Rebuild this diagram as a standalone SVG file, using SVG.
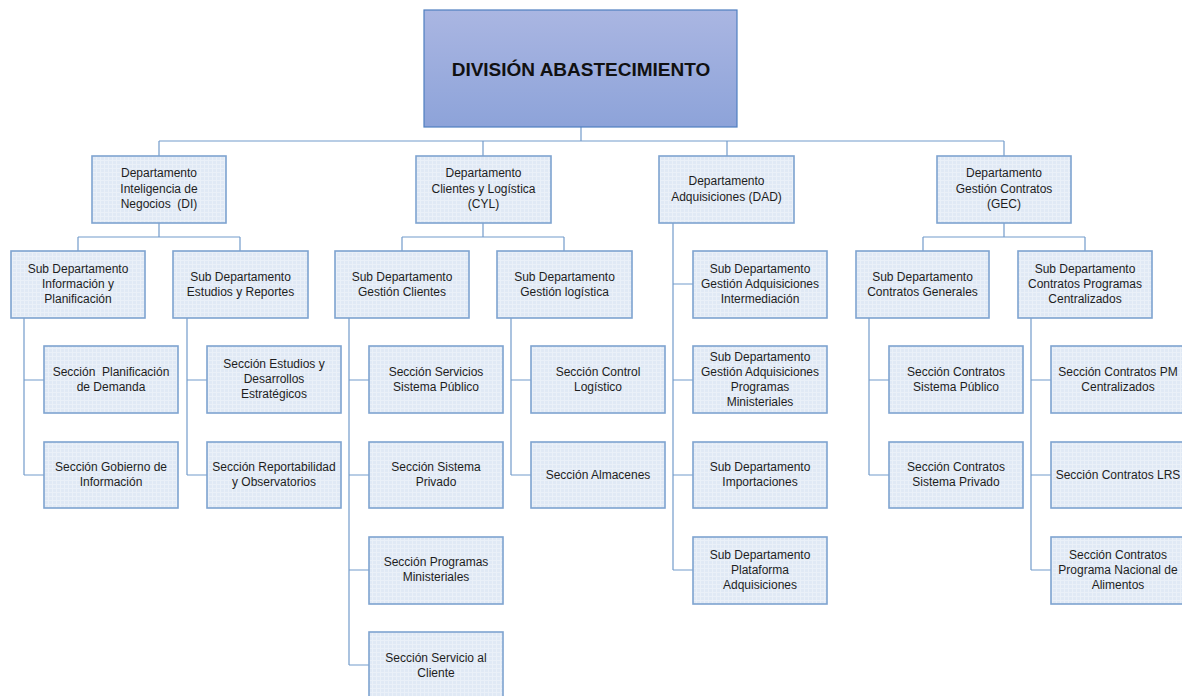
<svg xmlns="http://www.w3.org/2000/svg" width="1182" height="696" viewBox="0 0 1182 696">
<defs>
<linearGradient id="gTop" x1="0" y1="0" x2="0" y2="1">
<stop offset="0" stop-color="#AAB6E2"/>
<stop offset="1" stop-color="#8DA3D9"/>
</linearGradient>
<pattern id="grid" width="4" height="4" patternUnits="userSpaceOnUse">
<rect width="4" height="4" fill="#E0E9F5"/>
<path d="M0 0.5H4M0.5 0V4" stroke="#EAF0F8" stroke-width="1"/>
</pattern>
<style>
.n{fill:url(#grid);stroke:#7EA3D0;stroke-width:1.6}
.t{font-family:"Liberation Sans",Arial,sans-serif;font-size:12px;fill:#1E1E1E;text-anchor:middle}
.c{fill:none;stroke:#739CCB;stroke-width:1.2}
</style>
</defs>
<rect width="1182" height="696" fill="#FFFFFF"/>

<g id="connectors" class="c">
<path d="M581 127V141M159 141H1004M159 141V156M483 141V156M727 141V156M1004 141V156"/>
<path d="M159 223V237M78 237H240M78 237V251M240 237V251"/>
<path d="M483 223V237M402 237H564M402 237V251M564 237V251"/>
<path d="M1004 223V237M923 237H1085M923 237V251M1085 237V251"/>
<path d="M24 318V475M24 380H44M24 475H44"/>
<path d="M187 318V475M187 380H207M187 475H207"/>
<path d="M349 318V665M349 380H369M349 475H369M349 570H369M349 665H369"/>
<path d="M511 318V475M511 380H531M511 475H531"/>
<path d="M673 223V570M673 284H693M673 380H693M673 475H693M673 570H693"/>
<path d="M869 318V475M869 380H889M869 475H889"/>
<path d="M1031 318V570M1031 380H1051M1031 475H1051M1031 570H1051"/>
</g>

<g id="division">
<rect x="424" y="10" width="313" height="117" fill="url(#gTop)" stroke="#4F7FC0" stroke-width="1.2"/>
<text x="581" y="76" font-family="Liberation Sans,Arial,sans-serif" font-size="19" font-weight="bold" fill="#111" text-anchor="middle">DIVISIÓN ABASTECIMIENTO</text>
</g>

<g id="dept-di"><rect class="n" x="92" y="156" width="134" height="67"/>
<text class="t" xml:space="preserve"><tspan x="159" y="177">Departamento</tspan><tspan x="159" y="193">Inteligencia de</tspan><tspan x="159" y="208">Negocios  (DI)</tspan></text></g>
<g id="dept-cyl"><rect class="n" x="416" y="156" width="135" height="67"/>
<text class="t"><tspan x="483.5" y="177">Departamento</tspan><tspan x="483.5" y="193">Clientes y Logística</tspan><tspan x="483.5" y="208">(CYL)</tspan></text></g>
<g id="dept-dad"><rect class="n" x="659" y="156" width="135" height="67"/>
<text class="t"><tspan x="726.5" y="185">Departamento</tspan><tspan x="726.5" y="201">Adquisiciones (DAD)</tspan></text></g>
<g id="dept-gec"><rect class="n" x="937" y="156" width="134" height="67"/>
<text class="t"><tspan x="1004" y="177">Departamento</tspan><tspan x="1004" y="193">Gestión Contratos</tspan><tspan x="1004" y="208">(GEC)</tspan></text></g>

<g id="sub-info"><rect class="n" x="11" y="251" width="134" height="67"/>
<text class="t"><tspan x="78" y="273">Sub Departamento</tspan><tspan x="78" y="288">Información y</tspan><tspan x="78" y="303">Planificación</tspan></text></g>
<g id="sub-estudios"><rect class="n" x="173" y="251" width="135" height="67"/>
<text class="t"><tspan x="240.5" y="281">Sub Departamento</tspan><tspan x="240.5" y="296">Estudios y Reportes</tspan></text></g>
<g id="sub-clientes"><rect class="n" x="335" y="251" width="134" height="67"/>
<text class="t"><tspan x="402" y="281">Sub Departamento</tspan><tspan x="402" y="296">Gestión Clientes</tspan></text></g>
<g id="sub-logistica"><rect class="n" x="497" y="251" width="135" height="67"/>
<text class="t"><tspan x="564.5" y="281">Sub Departamento</tspan><tspan x="564.5" y="296">Gestión logística</tspan></text></g>
<g id="sub-intermediacion"><rect class="n" x="693" y="251" width="134" height="67"/>
<text class="t"><tspan x="760" y="273">Sub Departamento</tspan><tspan x="760" y="288">Gestión Adquisiciones</tspan><tspan x="760" y="303">Intermediación</tspan></text></g>
<g id="sub-programas"><rect class="n" x="693" y="346" width="134" height="67"/>
<text class="t"><tspan x="760" y="361">Sub Departamento</tspan><tspan x="760" y="376">Gestión Adquisiciones</tspan><tspan x="760" y="391">Programas</tspan><tspan x="760" y="406">Ministeriales</tspan></text></g>
<g id="sub-importaciones"><rect class="n" x="693" y="442" width="134" height="66"/>
<text class="t"><tspan x="760" y="471">Sub Departamento</tspan><tspan x="760" y="486">Importaciones</tspan></text></g>
<g id="sub-plataforma"><rect class="n" x="693" y="537" width="134" height="67"/>
<text class="t"><tspan x="760" y="559">Sub Departamento</tspan><tspan x="760" y="574">Plataforma</tspan><tspan x="760" y="589">Adquisiciones</tspan></text></g>
<g id="sub-generales"><rect class="n" x="856" y="251" width="133" height="67"/>
<text class="t"><tspan x="922.5" y="281">Sub Departamento</tspan><tspan x="922.5" y="296">Contratos Generales</tspan></text></g>
<g id="sub-centralizados"><rect class="n" x="1018" y="251" width="134" height="67"/>
<text class="t"><tspan x="1085" y="273">Sub Departamento</tspan><tspan x="1085" y="288">Contratos Programas</tspan><tspan x="1085" y="303">Centralizados</tspan></text></g>

<g id="sec-planificacion"><rect class="n" x="44" y="346" width="134" height="67"/>
<text class="t" xml:space="preserve"><tspan x="111" y="376">Sección  Planificación</tspan><tspan x="111" y="391">de Demanda</tspan></text></g>
<g id="sec-gobierno"><rect class="n" x="44" y="442" width="134" height="66"/>
<text class="t"><tspan x="111" y="471">Sección Gobierno de</tspan><tspan x="111" y="486">Información</tspan></text></g>
<g id="sec-estudios"><rect class="n" x="207" y="346" width="134" height="67"/>
<text class="t"><tspan x="274" y="368">Sección Estudios y</tspan><tspan x="274" y="383">Desarrollos</tspan><tspan x="274" y="398">Estratégicos</tspan></text></g>
<g id="sec-reportabilidad"><rect class="n" x="207" y="442" width="134" height="66"/>
<text class="t"><tspan x="274" y="471">Sección Reportabilidad</tspan><tspan x="274" y="486">y Observatorios</tspan></text></g>
<g id="sec-servicios"><rect class="n" x="369" y="346" width="134" height="67"/>
<text class="t"><tspan x="436" y="376">Sección Servicios</tspan><tspan x="436" y="391">Sistema Público</tspan></text></g>
<g id="sec-privado"><rect class="n" x="369" y="442" width="134" height="66"/>
<text class="t"><tspan x="436" y="471">Sección Sistema</tspan><tspan x="436" y="486">Privado</tspan></text></g>
<g id="sec-ministeriales"><rect class="n" x="369" y="537" width="134" height="67"/>
<text class="t"><tspan x="436" y="566">Sección Programas</tspan><tspan x="436" y="581">Ministeriales</tspan></text></g>
<g id="sec-cliente"><rect class="n" x="369" y="632" width="134" height="67"/>
<text class="t"><tspan x="436" y="662">Sección Servicio al</tspan><tspan x="436" y="677">Cliente</tspan></text></g>
<g id="sec-control"><rect class="n" x="531" y="346" width="134" height="67"/>
<text class="t"><tspan x="598" y="376">Sección Control</tspan><tspan x="598" y="391">Logístico</tspan></text></g>
<g id="sec-almacenes"><rect class="n" x="531" y="442" width="134" height="66"/>
<text class="t"><tspan x="598" y="479">Sección Almacenes</tspan></text></g>
<g id="sec-cont-publico"><rect class="n" x="889" y="346" width="134" height="67"/>
<text class="t"><tspan x="956" y="376">Sección Contratos</tspan><tspan x="956" y="391">Sistema Público</tspan></text></g>
<g id="sec-cont-privado"><rect class="n" x="889" y="442" width="134" height="66"/>
<text class="t"><tspan x="956" y="471">Sección Contratos</tspan><tspan x="956" y="486">Sistema Privado</tspan></text></g>
<g id="sec-cont-pm"><rect class="n" x="1051" y="346" width="134" height="67"/>
<text class="t"><tspan x="1118" y="376">Sección Contratos PM</tspan><tspan x="1118" y="391">Centralizados</tspan></text></g>
<g id="sec-cont-lrs"><rect class="n" x="1051" y="442" width="134" height="66"/>
<text class="t"><tspan x="1118" y="479">Sección Contratos LRS</tspan></text></g>
<g id="sec-cont-pna"><rect class="n" x="1051" y="537" width="134" height="67"/>
<text class="t"><tspan x="1118" y="559">Sección Contratos</tspan><tspan x="1118" y="574">Programa Nacional de</tspan><tspan x="1118" y="589">Alimentos</tspan></text></g>
</svg>
